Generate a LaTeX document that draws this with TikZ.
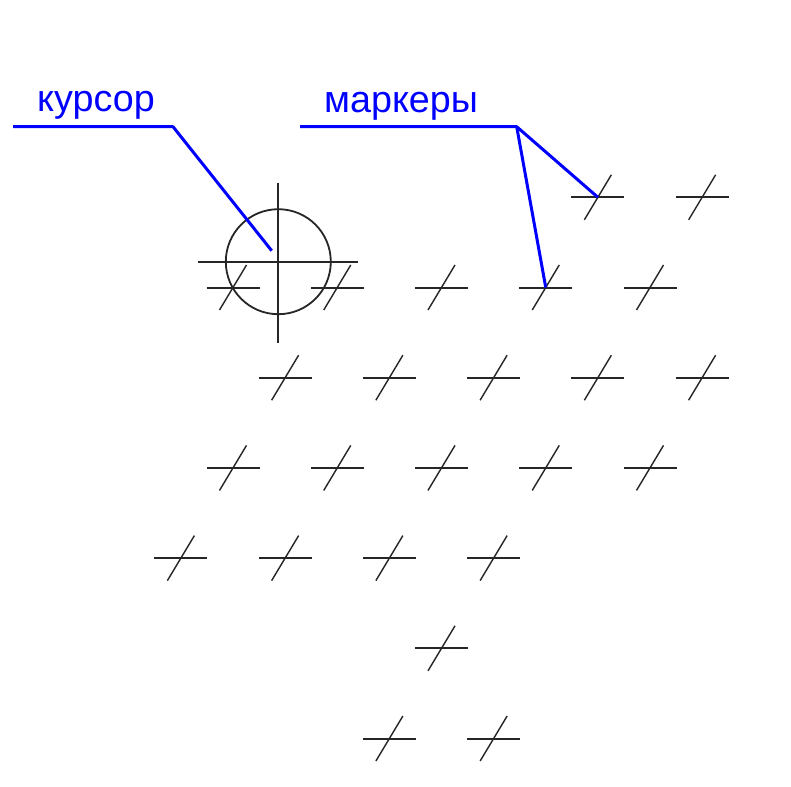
\documentclass[tikz,border=0pt]{standalone}
\usepackage{fontspec}
\setmainfont{Liberation Sans}
\begin{document}
\begin{tikzpicture}[x=1pt,y=-1pt,
  markbar/.style={line width=2pt,black!85},
  markdiag/.style={line width=1.4pt,black!85},
  cursline/.style={line width=1.8pt,black!85},
  leader/.style={line width=3pt,blue,line join=round},
  lbl/.style={text=blue,font=\fontsize{37.7}{40}\selectfont,inner sep=0pt,anchor=base west}]
\useasboundingbox (0,0) rectangle (791,786);
\fill[white] (0,0) rectangle (791,786);
% markers
\foreach \r/\c in {1/7,1/9,
                   2/0,2/2,2/4,2/6,2/8,
                   3/1,3/3,3/5,3/7,3/9,
                   4/0,4/2,4/4,4/6,4/8,
                   5/-1,5/1,5/3,5/5,
                   6/4,
                   7/3,7/5}{
  \coordinate (m\r-\c) at ({233+52.125*\c},{197.3+90.2*(\r-1)});
  \draw[markbar] (m\r-\c) ++(-26.5,0) -- ++(53,0);
  \draw[markdiag] (m\r-\c) ++(13.5,-22.5) -- ++(-27,45);
}
% cursor
\coordinate (cur) at (278.3,261.7);
\draw[cursline] (cur) circle[radius=52.5];
\draw[cursline] (cur) ++(-80,0) -- ++(160,0);
\draw[cursline] (cur) ++(0,-79) -- ++(0,160);
% labels
\node[lbl] (lcur) at (37,112) {курсор};
\node[lbl] (lmark) at (324,113) {маркеры};
% leaders
\coordinate (cs) at (13,126.7);
\coordinate (ck) at (173,126.7);
\coordinate (ce) at (271.7,250.7);
\draw[leader] (cs) -- (ck) -- (ce);
\coordinate (ms) at (300,126.7);
\coordinate (mk) at (516.7,126.7);
\draw[leader] (ms) -- (mk) -- (m1-7);
\draw[leader] (mk) -- (m2-6);
\end{tikzpicture}
\end{document}
